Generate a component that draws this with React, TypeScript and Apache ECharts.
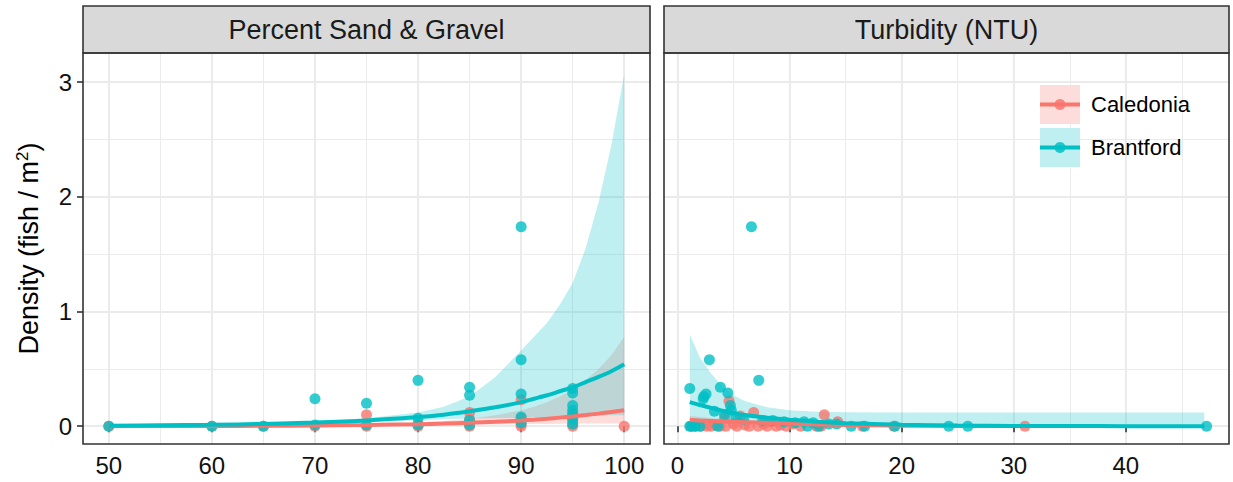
import { useEffect, useRef } from 'react';
import * as echarts from 'echarts';

const FONT = "'Liberation Sans', Arial, Helvetica, sans-serif";
const SITES = ['Caledonia', 'Brantford'];
const SITE_COLORS = ['#F8766D', '#00BFC4'];
const SITE_BANDS = ['rgba(248,118,109,0.25)', 'rgba(0,191,196,0.25)'];
const SITE_KEYS = ['#FDDDDB', '#BFEFF0'];
const PANEL_TITLES = ['Percent Sand & Gravel', 'Turbidity (NTU)'];

const Y_TICKS = [0, 1, 2, 3];
const Y_MINOR = [0.5, 1.5, 2.5];
const SAND_TICKS = [50, 60, 70, 80, 90, 100];
const SAND_MINOR = [55, 65, 75, 85, 95];
const TURB_TICKS = [0, 10, 20, 30, 40];
const TURB_MINOR = [5, 15, 25, 35, 45];

// ---- Percent Sand & Gravel: observations
const SAND_CAL_X = [50, 60, 65, 70, 75, 75, 80, 80, 85, 85, 85, 90, 90, 90, 90, 95, 95, 95, 95, 100];
const SAND_CAL_Y = [0, 0, 0, 0, 0.1, 0, 0.02, 0, 0.12, 0.06, 0, 0.23, 0.07, 0.02, 0, 0.11, 0.06, 0.02, 0, 0];
const SAND_BRA_X = [50, 60, 65, 70, 70, 75, 75, 80, 80, 80, 85, 85, 85, 85, 90, 90, 90, 90, 90, 95, 95, 95, 95, 95, 95, 95];
const SAND_BRA_Y = [0, 0, 0, 0.24, 0.01, 0.2, 0.01, 0.4, 0.07, 0.01, 0.34, 0.27, 0.05, 0.01, 1.74, 0.58, 0.28, 0.08, 0.03, 0.33, 0.29, 0.18, 0.14, 0.1, 0.06, 0.02];

// ---- Percent Sand & Gravel: fitted curves and confidence bands
const SAND_FIT_X = [50, 55, 60, 65, 70, 75, 80, 82.5, 85, 87.5, 90, 91.25, 92.5, 93.75, 95, 96.25, 97.5, 98.75, 100];
const SAND_CAL_FIT = [0.0008, 0.0013, 0.0023, 0.0038, 0.0065, 0.011, 0.018, 0.023, 0.03, 0.039, 0.05, 0.057, 0.065, 0.075, 0.085, 0.097, 0.11, 0.125, 0.14];
const SAND_CAL_LO = [0.0003, 0.0005, 0.001, 0.0018, 0.004, 0.007, 0.01, 0.012, 0.014, 0.016, 0.018, 0.019, 0.02, 0.022, 0.023, 0.0235, 0.024, 0.0245, 0.025];
const SAND_CAL_HI = [0.002, 0.003, 0.004, 0.006, 0.01, 0.017, 0.032, 0.045, 0.065, 0.095, 0.14, 0.17, 0.21, 0.26, 0.32, 0.4, 0.5, 0.62, 0.78];
const SAND_BRA_FIT = [0.005, 0.008, 0.012, 0.02, 0.032, 0.05, 0.08, 0.1, 0.13, 0.165, 0.21, 0.24, 0.27, 0.305, 0.34, 0.385, 0.43, 0.48, 0.54];
const SAND_BRA_LO = [0.002, 0.004, 0.0065, 0.012, 0.023, 0.036, 0.053, 0.06, 0.068, 0.07, 0.072, 0.076, 0.08, 0.086, 0.092, 0.093, 0.094, 0.095, 0.095];
const SAND_BRA_HI = [0.012, 0.016, 0.022, 0.03, 0.045, 0.07, 0.12, 0.17, 0.26, 0.43, 0.66, 0.78, 0.9, 1.06, 1.25, 1.55, 1.95, 2.45, 3.07];

// ---- Turbidity: observations
const TURB_CAL_X = [1.2, 1.6, 2.1, 2.6, 3.0, 3.4, 3.8, 4.2, 4.3, 4.6, 5.0, 5.3, 5.6, 6.0, 6.4, 6.8, 7.2, 7.7, 8.0, 8.3, 8.8, 9.2, 9.7, 10.3, 11.0, 12.4, 12.8, 13.1, 14.3, 16.5, 19.3, 31.0];
const TURB_CAL_Y = [0, 0, 0, 0, 0, 0.01, 0, 0.07, 0, 0.22, 0.02, 0, 0.09, 0.01, 0, 0.12, 0, 0.02, 0, 0.04, 0, 0.01, 0, 0.02, 0, 0, 0, 0.1, 0.04, 0, 0, 0];
const TURB_BRA_X = [1.1, 1.1, 1.3, 1.6, 2.0, 2.3, 2.35, 2.55, 2.85, 3.3, 3.6, 3.83, 4.2, 4.5, 4.72, 4.8, 5.2, 5.9, 6.6, 7.25, 7.6, 8.5, 9.5, 10.5, 11.3, 11.6, 12.1, 12.6, 13.5, 14.2, 15.5, 16.7, 19.4, 24.2, 25.9, 47.2];
const TURB_BRA_Y = [0.33, 0, 0, 0, 0, 0.24, 0.26, 0.28, 0.58, 0.13, 0, 0.34, 0.1, 0.29, 0.18, 0.14, 0.08, 0.06, 1.74, 0.4, 0.05, 0.05, 0.04, 0.03, 0.04, 0, 0.03, 0, 0.02, 0.02, 0, 0, 0, 0, 0, 0];

// ---- Turbidity: fitted curves and confidence bands
const TURB_CAL_FIT_X = [1.1, 2, 3, 4, 5, 6, 8, 10, 12.5, 15, 20, 25, 31];
const TURB_CAL_FIT = [0.055, 0.05, 0.046, 0.042, 0.038, 0.035, 0.028, 0.022, 0.016, 0.011, 0.005, 0.0025, 0.001];
const TURB_CAL_LO = [0.033, 0.031, 0.029, 0.027, 0.024, 0.022, 0.017, 0.013, 0.008, 0.0045, 0.0012, 0.0004, 0.0001];
const TURB_CAL_HI = [0.09, 0.08, 0.072, 0.065, 0.06, 0.055, 0.045, 0.038, 0.032, 0.027, 0.02, 0.017, 0.015];
const TURB_BRA_FIT_X = [1.1, 2, 3, 4, 5, 6, 8, 10, 12.5, 15, 20, 25, 30, 35, 40, 47];
const TURB_BRA_FIT = [0.21, 0.185, 0.16, 0.135, 0.115, 0.098, 0.075, 0.057, 0.04, 0.027, 0.013, 0.006, 0.003, 0.0015, 0.0007, 0.0003];
const TURB_BRA_LO = [0.055, 0.055, 0.052, 0.05, 0.045, 0.04, 0.032, 0.024, 0.014, 0.006, 0.0015, 0.0004, 0.0001, 0, 0, 0];
const TURB_BRA_HI = [0.8, 0.6, 0.46, 0.35, 0.27, 0.22, 0.165, 0.14, 0.127, 0.122, 0.12, 0.12, 0.12, 0.12, 0.12, 0.12];

// ---- layout
const PLOT_TOP = 53;
const PLOT_BOTTOM = 444;
const STRIP_TOP = 6;
const PANELS = [
  { left: 83, right: 650, xMin: 47.5, xMax: 102.5, ticks: SAND_TICKS, minor: SAND_MINOR },
  { left: 664, right: 1229, xMin: -1.2, xMax: 49.2, ticks: TURB_TICKS, minor: TURB_MINOR },
];
const Y_MIN = -0.155;
const Y_MAX = 3.255;

const PANEL_DATA = [
  {
    ptsX: [SAND_CAL_X, SAND_BRA_X], ptsY: [SAND_CAL_Y, SAND_BRA_Y],
    fitX: [SAND_FIT_X, SAND_FIT_X], fit: [SAND_CAL_FIT, SAND_BRA_FIT],
    lo: [SAND_CAL_LO, SAND_BRA_LO], hi: [SAND_CAL_HI, SAND_BRA_HI],
  },
  {
    ptsX: [TURB_CAL_X, TURB_BRA_X], ptsY: [TURB_CAL_Y, TURB_BRA_Y],
    fitX: [TURB_CAL_FIT_X, TURB_BRA_FIT_X], fit: [TURB_CAL_FIT, TURB_BRA_FIT],
    lo: [TURB_CAL_LO, TURB_BRA_LO], hi: [TURB_CAL_HI, TURB_BRA_HI],
  },
];

const pairs = (xs: number[], ys: number[]) => xs.map((x, i) => [x, ys[i]]);

function buildOption() {
  const H = PLOT_BOTTOM - PLOT_TOP;
  const grid = PANELS.map((p) => ({ left: p.left, top: PLOT_TOP, width: p.right - p.left, height: H, containLabel: false }));

  const majorSplit = { show: true, lineStyle: { color: '#EBEBEB', width: 2 } };
  const minorSplit = { show: true, lineStyle: { color: '#EBEBEB', width: 1 } };
  const tickStyle = { color: '#333333', width: 1.6 };
  const labelStyle = { fontSize: 24, color: '#111', fontFamily: FONT };

  const xAxis: any[] = [];
  const yAxis: any[] = [];
  PANELS.forEach((p, pi) => {
    xAxis.push({
      gridIndex: pi, type: 'value', min: p.xMin, max: p.xMax, position: 'bottom',
      axisLine: { show: false },
      axisTick: { show: true, length: 6, lineStyle: tickStyle, customValues: p.ticks },
      axisLabel: { ...labelStyle, margin: 9, customValues: p.ticks },
      splitLine: majorSplit,
    });
    xAxis.push({
      gridIndex: pi, type: 'value', min: p.xMin, max: p.xMax, position: 'top',
      axisLine: { show: false },
      axisTick: { show: false, customValues: p.minor },
      axisLabel: { show: false, customValues: p.minor },
      splitLine: minorSplit,
    });
    yAxis.push({
      gridIndex: pi, type: 'value', min: Y_MIN, max: Y_MAX, position: 'left',
      axisLine: { show: false },
      axisTick: { show: pi === 0, length: 6, lineStyle: tickStyle, customValues: Y_TICKS },
      axisLabel: { ...labelStyle, show: pi === 0, margin: 11, customValues: Y_TICKS },
      splitLine: majorSplit,
      ...(pi === 0
        ? {
            name: 'Density (fish / m{sup|2})',
            nameLocation: 'middle',
            nameRotate: 90,
            nameGap: 39,
            nameTextStyle: {
              fontSize: 27, color: '#000', fontFamily: FONT, lineHeight: 30,
              rich: { sup: { fontSize: 17, lineHeight: 18, verticalAlign: 'top', color: '#000', fontFamily: FONT } },
            },
          }
        : {}),
    });
    yAxis.push({
      gridIndex: pi, type: 'value', min: Y_MIN, max: Y_MAX, position: 'right',
      axisLine: { show: false },
      axisTick: { show: false, customValues: Y_MINOR },
      axisLabel: { show: false, customValues: Y_MINOR },
      splitLine: minorSplit,
    });
  });

  const series: any[] = [];
  PANEL_DATA.forEach((d, pi) => {
    const xi = pi * 2;
    const yi = pi * 2;
    // points
    SITES.forEach((site, s) => {
      series.push({
        type: 'scatter', name: site, xAxisIndex: xi, yAxisIndex: yi,
        data: pairs(d.ptsX[s], d.ptsY[s]), symbolSize: 11,
        itemStyle: { color: SITE_COLORS[s], opacity: 0.8 }, silent: true,
      });
    });
    // confidence bands: one polygon per site, mapped through the axes' scales
    SITES.forEach((site, s) => {
      const xs = d.fitX[s];
      const lo = d.lo[s];
      const hi = d.hi[s];
      series.push({
        type: 'custom', name: `${site} band`, xAxisIndex: xi, yAxisIndex: yi, clip: true, silent: true,
        data: xs.map((x, i) => [x, lo[i], hi[i]]),
        encode: { x: 0, y: [1, 2] },
        renderItem: (params: any, api: any) => {
          if (params.dataIndex !== 0) return null;
          const upper = xs.map((x, i) => api.coord([x, hi[i]]));
          const lower = xs.map((x, i) => api.coord([x, lo[i]])).reverse();
          return {
            type: 'polygon',
            shape: { points: upper.concat(lower) },
            style: { fill: SITE_BANDS[s], stroke: 'none' },
          };
        },
      });
    });
    // fitted lines
    SITES.forEach((site, s) => {
      series.push({
        type: 'line', name: site, xAxisIndex: xi, yAxisIndex: yi,
        data: pairs(d.fitX[s], d.fit[s]), symbol: 'none', smooth: 0.3,
        lineStyle: { color: SITE_COLORS[s], width: 4 }, itemStyle: { color: SITE_COLORS[s] }, silent: true,
      });
    });
  });

  const graphic: any[] = [];
  PANELS.forEach((p, pi) => {
    graphic.push({
      type: 'rect', z: 50,
      shape: { x: p.left, y: STRIP_TOP, width: p.right - p.left, height: PLOT_TOP - STRIP_TOP },
      style: { fill: '#D9D9D9', stroke: '#333333', lineWidth: 1.6 },
    });
    graphic.push({
      type: 'text', z: 51, x: (p.left + p.right) / 2, y: (STRIP_TOP + PLOT_TOP) / 2,
      style: { text: PANEL_TITLES[pi], fontSize: 27, fontFamily: FONT, fill: '#1a1a1a', align: 'center', verticalAlign: 'middle' },
    });
    graphic.push({
      type: 'rect', z: 50, silent: true,
      shape: { x: p.left, y: PLOT_TOP, width: p.right - p.left, height: PLOT_BOTTOM - PLOT_TOP },
      style: { fill: 'none', stroke: '#333333', lineWidth: 1.6 },
    });
  });
  // legend keys: band square + line + point
  const LEG_LEFT = 1040, LEG_TOP = 85, LEG_W = 40, LEG_H = 39, LEG_GAP = 4;
  SITES.forEach((_, s) => {
    const y0 = LEG_TOP + s * (LEG_H + LEG_GAP);
    const yc = y0 + LEG_H / 2;
    graphic.push({ type: 'rect', z: 55, shape: { x: LEG_LEFT, y: y0, width: LEG_W, height: LEG_H }, style: { fill: SITE_KEYS[s] } });
    graphic.push({ type: 'line', z: 60, shape: { x1: LEG_LEFT, y1: yc, x2: LEG_LEFT + LEG_W, y2: yc }, style: { stroke: SITE_COLORS[s], lineWidth: 4 } });
    graphic.push({ type: 'circle', z: 61, shape: { cx: LEG_LEFT + LEG_W / 2, cy: yc, r: 5.5 }, style: { fill: SITE_COLORS[s], opacity: 0.85 } });
  });

  return {
    animation: false,
    backgroundColor: '#ffffff',
    textStyle: { fontFamily: FONT },
    grid,
    xAxis,
    yAxis,
    legend: {
      orient: 'vertical', left: LEG_LEFT, top: LEG_TOP, padding: 0,
      itemWidth: LEG_W, itemHeight: LEG_H, itemGap: LEG_GAP,
      icon: 'rect', selectedMode: false, z: 20,
      data: SITES.map((s) => ({ name: s, itemStyle: { color: 'rgba(0,0,0,0)', opacity: 0, borderWidth: 0 } })),
      textStyle: { fontSize: 22, color: '#000', fontFamily: FONT, padding: [0, 0, 0, 6] },
    },
    graphic,
    series,
  };
}

export default function App() {
  const ref = useRef<HTMLDivElement>(null);
  useEffect(() => {
    if (!ref.current) return;
    const chart = echarts.init(ref.current, undefined, { renderer: 'svg' });
    chart.setOption(buildOption() as any);
    return () => chart.dispose();
  }, []);
  return (
    <div
      ref={ref}
      style={{ position: 'absolute', left: 0, top: 0, width: 1233, height: 482, background: '#fff' }}
    />
  );
}
